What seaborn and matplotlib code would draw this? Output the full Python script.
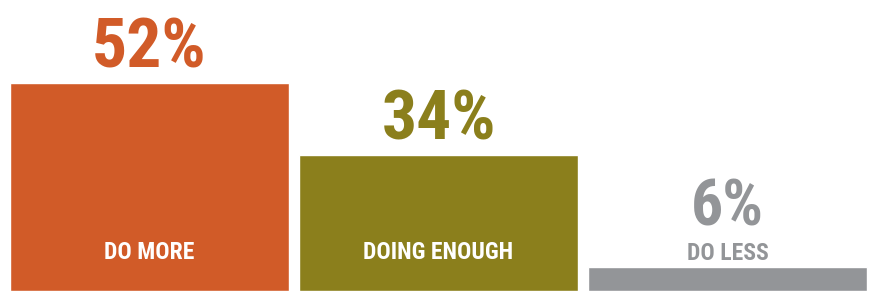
import matplotlib
matplotlib.use("Agg")
import matplotlib.pyplot as plt
import seaborn as sns
import pandas as pd

# data
categories = ["DO MORE", "DOING ENOUGH", "DO LESS"]
values = [52, 34, 6]
inside_label = [True, True, False]

palette = ["#D15B28", "#8B7F1C", "#939598"]

sns.set_style("white")
plt.rcParams["font.family"] = ["Roboto Condensed", "DejaVu Sans"]

df = pd.DataFrame({"cat": categories, "val": values})

fig = plt.figure(figsize=(8.71, 2.91), dpi=100)
ax = fig.add_axes([5 / 871, 0, 867 / 871, 1])
sns.barplot(data=df, x="cat", y="val", hue="cat", palette=palette,
            width=0.965, legend=False, ax=ax, saturation=1)
ax.set_xlim(-0.5, 2.5)
ax.set_ylim(0, 291 / 4)
ax.axis("off")

px = 0.72  # pixels -> points
for i, (cat, v, inside) in enumerate(zip(categories, values, inside_label)):
    col = palette[i]
    if inside:
        ax.annotate(f"{v}%", (i, v), xytext=(0, 15 * px), textcoords="offset points",
                    ha="center", va="baseline", fontsize=50, fontweight="bold", color=col)
        ax.annotate(cat, (i, 0), xytext=(0, 32 * px), textcoords="offset points",
                    ha="center", va="baseline", fontsize=17, fontweight="bold", color="white")
    else:
        ax.annotate(f"{v}%", (i, v), xytext=(0, 42 * px), textcoords="offset points",
                    ha="center", va="baseline", fontsize=46, fontweight="bold", color=col)
        ax.annotate(cat, (i, v), xytext=(0, 7 * px), textcoords="offset points",
                    ha="center", va="baseline", fontsize=17, fontweight="bold", color=col)

fig.savefig("out.png", dpi=100)
